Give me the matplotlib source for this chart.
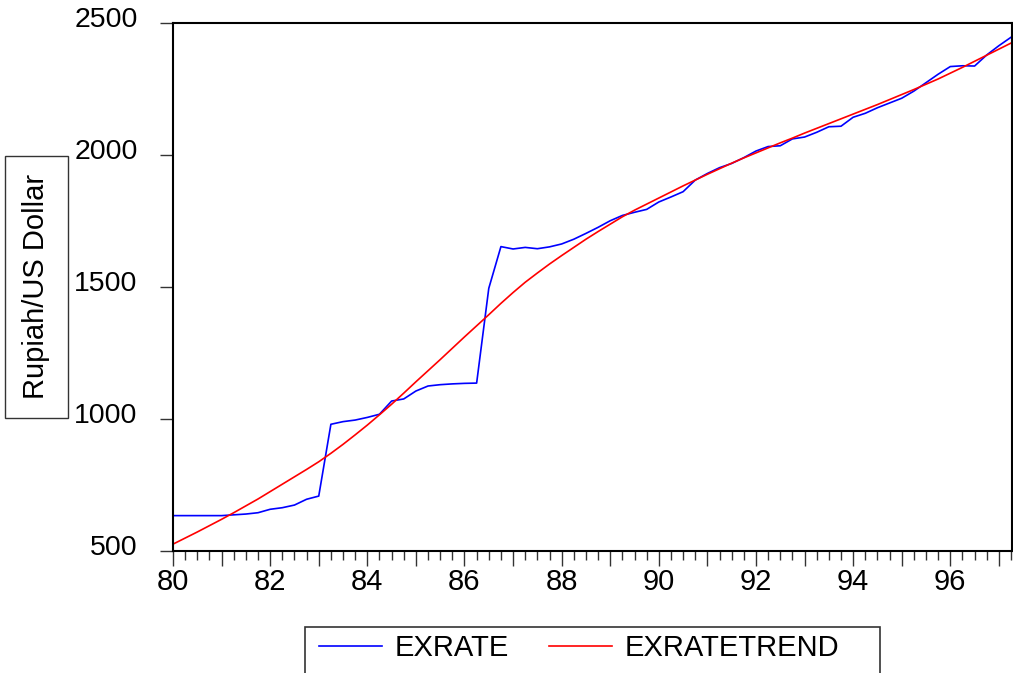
"""
EXRATE vs its HP trend, quarterly 1980Q1-1997Q2.
"""
import matplotlib
matplotlib.use("Agg")
import matplotlib.pyplot as plt
from matplotlib.patches import Rectangle
from matplotlib.transforms import ScaledTranslation

plt.rcParams["font.family"] = ["Liberation Sans", "DejaVu Sans"]

# --- DATA: quarterly observations --- #
start_year = 1980
n_quarters = 70
quarters = [start_year + i / 4 for i in range(n_quarters)]

exrate = [
    634, 634, 634, 634, 634, 637, 640, 645,
    658, 664, 674, 696, 708, 980, 990, 996,
    1006, 1018, 1068, 1076, 1106, 1125, 1130, 1133,
    1135, 1136, 1495, 1653, 1644, 1650, 1645, 1652,
    1663, 1681, 1703, 1726, 1751, 1771, 1783, 1794,
    1822, 1841, 1861, 1905, 1930, 1952, 1968, 1990,
    2015, 2032, 2035, 2061, 2068, 2086, 2107, 2109,
    2143, 2158, 2179, 2197, 2215, 2242, 2274, 2306,
    2335, 2338, 2337, 2379, 2414, 2446,
]

exrate_trend = [
    526, 549, 572, 596, 620, 645, 671, 697,
    725, 753, 781, 809, 838, 870, 904, 940,
    977, 1016, 1056, 1098, 1141, 1183, 1225, 1268,
    1311, 1353, 1395, 1438, 1479, 1518, 1553, 1587,
    1619, 1650, 1681, 1710, 1738, 1766, 1791, 1814,
    1837, 1860, 1883, 1905, 1927, 1948, 1969, 1989,
    2008, 2027, 2046, 2064, 2083, 2101, 2119, 2137,
    2155, 2173, 2191, 2210, 2229, 2248, 2268, 2288,
    2310, 2332, 2355, 2378, 2401, 2424,
]

y_ticks = [500, 1000, 1500, 2000, 2500]
year_ticks = list(range(1980, 1998))
year_labels = [str(y)[2:] if y % 2 == 0 else "" for y in year_ticks]

# --- FIGURE --- #
W, H = 1013, 673
fig = plt.figure(figsize=(W / 100, H / 100), dpi=100)
ax = fig.add_axes([173 / W, 1 - 551 / H, 839 / W, 528 / H])

ax.plot(quarters, exrate, color="#0000ff", linewidth=1.2, label="EXRATE")
ax.plot(quarters, exrate_trend, color="#ff0000", linewidth=1.2, label="EXRATETREND")

ax.set_xlim(1980, 1997.27)
ax.set_ylim(500, 2500)

# --- AXES STYLE --- #
for side in ax.spines.values():
    side.set_linewidth(1.5)
    side.set_color("black")

ax.set_yticks(y_ticks)
ax.set_yticklabels([str(v) for v in y_ticks])
ax.tick_params(axis="y", direction="out", length=9.5, width=1, color="#333333",
               pad=16, labelsize=20.5)
offset = ScaledTranslation(0, 6 / 100, fig.dpi_scale_trans)
for lbl in ax.get_yticklabels():
    lbl.set_transform(lbl.get_transform() + offset)

ax.set_xticks(year_ticks)
ax.set_xticklabels(year_labels)
ax.set_xticks(quarters, minor=True)
ax.tick_params(axis="x", which="major", direction="out", length=11, width=1,
               color="#333333", pad=1, labelsize=21)
ax.tick_params(axis="x", which="minor", direction="out", length=6.5, width=1,
               color="#333333")

# --- BOXED Y LABEL --- #
fig.patches.append(Rectangle((5 / W, 1 - 418 / H), 63 / W, 262 / H,
                             transform=fig.transFigure, fill=False,
                             edgecolor="#333333", linewidth=1))
fig.text(36.5 / W, 1 - 286 / H, "Rupiah/US Dollar", rotation=90,
         ha="center", va="center", fontsize=21)

# --- LEGEND --- #
fig.patches.append(Rectangle((305 / W, 1 - 676 / H), 575 / W, 49 / H,
                             transform=fig.transFigure, fill=False,
                             edgecolor="#333333", linewidth=1.2))
fig.legend(loc="center left", bbox_to_anchor=(319 / W, 1 - 648 / H), ncol=2,
           frameon=False, fontsize=21, handlelength=2.15, handletextpad=0.45,
           columnspacing=1.37, borderpad=0, borderaxespad=0)

fig.savefig("out.png", dpi=100)
